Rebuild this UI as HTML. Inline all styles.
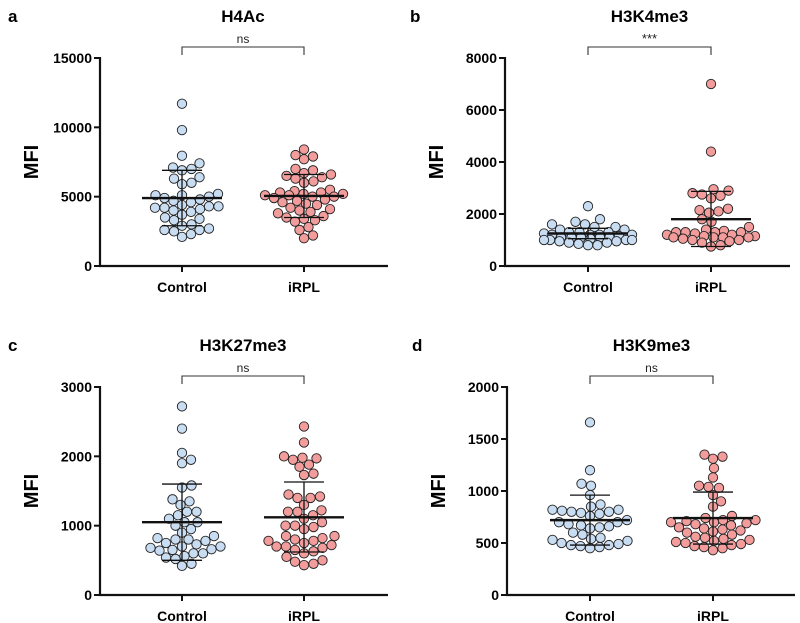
<!DOCTYPE html>
<html><head><meta charset="utf-8"><style>
html,body{margin:0;padding:0;background:#fff;}
svg{display:block;font-family:"Liberation Sans",Arial,sans-serif;}
</style></head><body>
<svg id="fig" width="800" height="623" viewBox="0 0 800 623"></svg>
<script>
// ---- data ----
const categories = ["Control","iRPL"];
const titles = ["H4Ac","H3K4me3","H3K27me3","H3K9me3"];
const letters = ["a","b","c","d"];
const sigLabels = ["ns","***","ns","ns"];
const yMaxes = [15000,8000,3000,2000];
const tickA = [0,5000,10000,15000];
const tickB = [0,2000,4000,6000,8000];
const tickC = [0,1000,2000,3000];
const tickD = [0,500,1000,1500,2000];
const ctrlA = [11700,9800,7950,7400,7100,7000,6900,6400,6300,6000,5900,5200,5100,5100,5000,4900,4800,4700,4600,4400,4300,4300,4200,4200,4100,4000,3900,3700,3500,3400,3300,3000,2900,2700,2600,2600,2500,2300,2100];
const irplA = [8400,8000,7900,7700,7000,6900,6700,6600,6500,6400,6300,6100,6000,5500,5400,5300,5300,5200,5200,5100,5100,5000,5000,4900,4800,4700,4600,4500,4400,4200,4100,4000,3900,3800,3600,3500,3400,3300,3200,2800,2600,2200,2000];
const ctrlB = [2300,1800,1700,1600,1600,1500,1500,1400,1400,1300,1300,1300,1250,1200,1200,1200,1200,1150,1100,1100,1100,1100,1100,1050,1000,1000,1000,1000,950,950,900,900,850,800,800];
const irplB = [7000,4400,2950,2900,2800,2750,2700,2600,2200,2150,2100,2050,1800,1700,1500,1400,1350,1300,1300,1300,1300,1250,1200,1200,1150,1150,1100,1100,1100,1100,1050,1000,1000,950,900,800,750];
const ctrlC = [2720,2400,2050,1950,1900,1580,1550,1380,1350,1300,1200,1200,1150,1100,1050,1050,1000,950,900,850,820,800,800,780,750,730,700,700,680,660,650,640,600,600,560,540,520,450,420];
const irplC = [2430,2200,2000,1980,1970,1950,1880,1850,1750,1730,1450,1420,1400,1400,1300,1220,1200,1200,1150,1100,1050,1000,1000,980,950,850,850,820,800,780,780,750,720,700,700,680,650,630,600,550,500,480,450,430];
const ctrlD = [1660,1200,1070,1050,960,870,850,820,820,810,800,800,790,780,760,720,700,700,680,670,660,650,640,600,580,550,540,530,520,500,490,480,480,470,460,450];
const irplD = [1350,1330,1310,1220,1130,1050,1040,1030,960,900,850,760,740,720,720,710,700,700,690,680,670,650,640,630,620,610,600,580,560,550,540,530,520,510,500,490,480,470,460,450,430];
const means = [[4900,5050],[1250,1800],[1050,1120],[720,740]];
const sdLow = [[2900,3500],[1050,750],[500,620],[480,490]];
const sdHigh = [[6900,6600],[1450,2870],[1600,1630],[960,990]];

const ticks = [tickA,tickB,tickC,tickD];
const series = [[ctrlA,irplA],[ctrlB,irplB],[ctrlC,irplC],[ctrlD,irplD]];

// ---- layout ----
const panels = [
 {ax:100, top:58, bot:266, right:388, cx:[182,304]},
 {ax:505, top:58, bot:266, right:790, cx:[588,711]},
 {ax:100, top:387, bot:595, right:388, cx:[182,304]},
 {ax:507, top:387, bot:595, right:795, cx:[590,713]}
];
const fills = ["#c8dcf2","#f29c9c"];
const R = 4.7;
const MAXW = 44;
const NS = "http://www.w3.org/2000/svg";
const svg = document.getElementById("fig");
function mk(tag, attrs, parent, text){
  const e = document.createElementNS(NS, tag);
  for (const k in attrs) e.setAttribute(k, attrs[k]);
  if (text !== undefined) e.textContent = text;
  (parent||svg).appendChild(e);
  return e;
}
function swarm(ys){
  const placed = [];
  const order = ys.map((y,i)=>i).sort((a,b)=>ys[b]-ys[a]);
  const xs = new Array(ys.length);
  for (const i of order){
    const y = ys[i];
    let best = 0, bestScore = Infinity;
    for (let s = 0; s <= MAXW; s += 0.5){
      for (const c of (s===0?[0]:[s,-s])){
        let score = 0;
        for (const p of placed){
          const d = Math.hypot(p.x-c, p.y-y);
          if (d < 2*R) score += (2*R - d);
        }
        const sc = score*10 + Math.abs(c)*0.05;
        if (sc < bestScore - 1e-9){ bestScore = sc; best = c; }
      }
      if (bestScore < 0.05*s + 1e-9 && bestScore < 1e-6 + Math.abs(best)*0.05) break;
    }
    xs[i]=best; placed.push({x:best,y:y});
  }
  return xs;
}

panels.forEach((P, pi)=>{
  const g = mk("g", {}, svg);
  
  
  const yScale = v => P.bot - v / yMaxes[pi] * (P.bot - P.top);
  const L = mk("text",{x:P.ax-92+(pi%2?-3:0),y:P.top-36,"font-size":17,"font-weight":"bold"},g,letters[pi]);
  
  
  const T = mk("text",{x:(P.cx[0]+P.cx[1])/2,y:P.top-36,"font-size":17,"font-weight":"bold","text-anchor":"middle"},g,titles[pi]);
  
  
  const by = P.top-11;
  const br = mk("path",{d:`M${P.cx[0]},${by+8}V${by}H${P.cx[1]}V${by+8}`,fill:"none",stroke:"#333","stroke-width":1.1},g);
  
  
  const st = mk("text",{x:(P.cx[0]+P.cx[1])/2,y:by-4,"font-size":pi==1?13:12,"text-anchor":"middle",fill:"#222"},g,sigLabels[pi]);
  
  
  const ya = mk("line",{x1:P.ax,y1:P.top-1,x2:P.ax,y2:P.bot,stroke:"#111","stroke-width":2.2},g);
  
  
  const xa = mk("line",{x1:P.ax-1,y1:P.bot,x2:P.right,y2:P.bot,stroke:"#111","stroke-width":2.2},g);
  
  
  ticks[pi].forEach(t=>{
    const y = yScale(t);
    mk("line",{x1:P.ax-6,y1:y,x2:P.ax,y2:y,stroke:"#111","stroke-width":2},g);
    const tl = mk("text",{x:P.ax-8,y:y+5,"font-size":14,"font-weight":"bold","text-anchor":"end"},g,String(t));
    
    
  });
  const yt = mk("text",{transform:`translate(${P.ax-62},${(P.top+P.bot)/2}) rotate(-90)`,"font-size":20,"font-weight":"bold","text-anchor":"middle"},g,"MFI");
  
  
  categories.forEach((c,ci)=>{
    mk("line",{x1:P.cx[ci],y1:P.bot,x2:P.cx[ci],y2:P.bot+6,stroke:"#111","stroke-width":2},g);
    const cl = mk("text",{x:P.cx[ci],y:P.bot+26,"font-size":14,"font-weight":"bold","text-anchor":"middle"},g,c);
    
    
    const vals = series[pi][ci];
    const ys = vals.map(yScale);
    const xs = swarm(ys);
    vals.forEach((v,k)=>{
      const dot = mk("circle",{cx:P.cx[ci]+xs[k],cy:ys[k],r:R,fill:fills[ci],stroke:"#222","stroke-width":0.9},g);
      
      
    });
  });
  categories.forEach((c,ci)=>{
    const x = P.cx[ci];
    const ym = yScale(means[pi][ci]), yl = yScale(sdLow[pi][ci]), yh = yScale(sdHigh[pi][ci]);
    const sd = mk("path",{d:`M${x},${yl}V${yh}M${x-20},${yl}H${x+20}M${x-20},${yh}H${x+20}`,stroke:"#111","stroke-width":1.3,fill:"none"},g);
    
    
    const m = mk("line",{x1:x-40,y1:ym,x2:x+40,y2:ym,stroke:"#111","stroke-width":2.4},g);
    
    
  });
});
</script>
</body></html>
